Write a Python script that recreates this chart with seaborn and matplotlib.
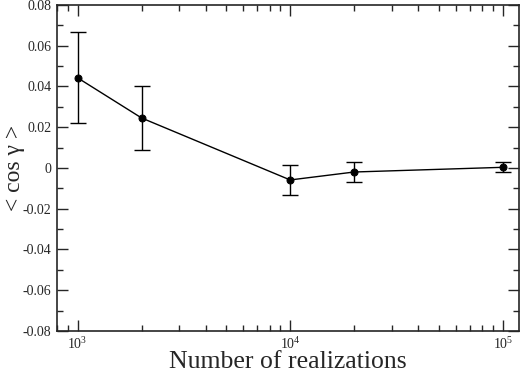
import matplotlib
matplotlib.use("Agg")
import matplotlib.pyplot as plt
import seaborn as sns
import pandas as pd
from matplotlib.ticker import LogLocator, MultipleLocator

# data
realizations = [1000, 2000, 10000, 20000, 100000]
mean_cos = [0.0442, 0.0245, -0.0059, -0.0020, 0.0003]
errors = [0.0224, 0.0157, 0.0072, 0.0050, 0.0025]

df = pd.DataFrame({"N": realizations, "cos": mean_cos, "err": errors})

sns.set_style("ticks")
plt.rcParams["font.family"] = ["Liberation Serif", "DejaVu Serif"]

fig = plt.figure(figsize=(5.23, 3.74), dpi=100)
ax = fig.add_axes([0.109, 0.115, 0.883, 0.872])

ax.errorbar(df["N"], df["cos"], yerr=df["err"], fmt="none", ecolor="black",
            elinewidth=1, capsize=6, capthick=1)
sns.lineplot(data=df, x="N", y="cos", ax=ax, color="black", linewidth=1,
             marker="o", markersize=5, markeredgecolor="black")

ax.set_xscale("log")
ax.set_xlim(800, 1.19e5)
ax.set_ylim(-0.08, 0.08)
ax.yaxis.set_major_locator(MultipleLocator(0.02))
ax.yaxis.set_minor_locator(MultipleLocator(0.01))
ax.xaxis.set_major_locator(LogLocator(base=10))
ax.xaxis.set_minor_locator(LogLocator(base=10, subs=range(2, 10)))
ax.yaxis.set_major_formatter(plt.FuncFormatter(lambda v, p: "0" if abs(v) < 1e-9 else f"{v:.2f}"))

ax.tick_params(which="both", direction="in", top=True, right=True, labelsize=10, width=1)
ax.tick_params(which="major", length=8)
ax.tick_params(which="minor", length=4)
ax.tick_params(axis="y", pad=4)
for s in ax.spines.values():
    s.set_linewidth(1.2)

ax.set_xlabel("Number of realizations", fontsize=18.5)
ax.set_ylabel("< cos γ >", fontsize=17)
ax.xaxis.set_label_coords(0.5, -0.06)
ax.yaxis.set_label_coords(-0.069, 0.5)

fig.savefig("out.png", dpi=100)
